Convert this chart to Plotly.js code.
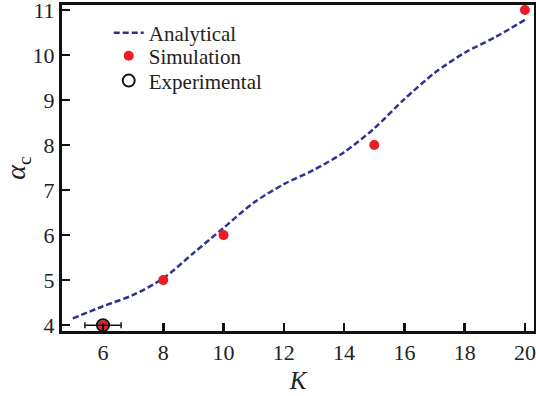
<!DOCTYPE html>
<html>
<head>
<meta charset="utf-8">
<script src="https://cdn.plot.ly/plotly-3.0.1.min.js"></script>
<style>html,body{margin:0;padding:0;background:#fff;font-family:"Liberation Serif"}</style>
</head>
<body>
<div id="chart" style="width:536px;height:396px"></div>
<script>
// Analytical curve
const analyticalK = [5, 6, 7, 8, 9, 10, 11, 12, 13, 14, 15, 16, 17, 18, 19, 20];
const analyticalAlpha = [4.15, 4.42, 4.67, 5.04, 5.6, 6.16, 6.72, 7.13, 7.45, 7.84, 8.37, 9.02, 9.6, 10.05, 10.39, 10.78];
// Simulation points
const simulationK = [6, 8, 10, 15, 20];
const simulationAlpha = [4, 5, 6, 8, 11];
// Experimental point
const experimentalK = [6];
const experimentalAlpha = [4];
const experimentalKErr = [0.6];
const xTicks = [6, 8, 10, 12, 14, 16, 18, 20];
const yTicks = [4, 5, 6, 7, 8, 9, 10, 11];

const serif = "Liberation Serif";

const traces = [
  {
    x: analyticalK, y: analyticalAlpha, name: "Analytical", type: "scatter", mode: "lines",
    legend: "legend",
    line: {color: "#2e3192", width: 2.5, dash: "6px,3px", shape: "spline", smoothing: 0.8}
  },
  {
    x: simulationK, y: simulationAlpha, name: "Simulation", type: "scatter", mode: "markers",
    legend: "legend2",
    marker: {color: "#ed1c24", size: 10, symbol: "circle"}
  },
  {
    x: experimentalK, y: experimentalAlpha, name: "Experimental", type: "scatter", mode: "markers",
    legend: "legend3",
    marker: {color: "#111", size: 12, symbol: "circle-open", line: {width: 2, color: "#111"}},
    error_x: {type: "data", array: experimentalKErr, visible: true, color: "#111", thickness: 1.5, width: 3}
  }
];

function legendAt(y) {
  return {
    x: 0.099, y: y, xanchor: "left", yanchor: "middle",
    bgcolor: "rgba(0,0,0,0)",
    font: {family: serif, size: 21, color: "#222"}
  };
}

const layout = {
  width: 536, height: 396,
  margin: {l: 62, r: 2, t: 5, b: 65},
  paper_bgcolor: "#fff", plot_bgcolor: "#fff",
  font: {family: serif, size: 20, color: "#222"},
  showlegend: true,
  legend: legendAt(0.914),
  legend2: legendAt(0.843),
  legend3: legendAt(0.767),
  xaxis: {
    range: [4.64, 20.3],
    tickvals: xTicks, ticktext: xTicks.map(String),
    ticks: "inside", ticklen: 8, tickwidth: 2.5, tickcolor: "#111",
    showline: true, linewidth: 3, linecolor: "#111", mirror: true,
    showgrid: false, zeroline: false,
    ticklabeloverflow: "allow",
    tickfont: {family: serif, size: 22, color: "#222"},
    title: {text: "<i>K</i>", font: {family: serif, size: 25, color: "#222"}, standoff: 8}
  },
  yaxis: {
    range: [3.87, 11.11],
    tickvals: yTicks, ticktext: yTicks.map(String),
    ticks: "inside", ticklen: 8, tickwidth: 2.5, tickcolor: "#111",
    showline: true, linewidth: 3, linecolor: "#111", mirror: true,
    showgrid: false, zeroline: false,
    ticklabeloverflow: "allow",
    tickfont: {family: serif, size: 22, color: "#222"},
    title: {text: "<i>α</i><sub>c</sub>", font: {family: serif, size: 28, color: "#222"}, standoff: 0}
  }
};

function draw() {
  Plotly.newPlot("chart", traces, layout, {displayModeBar: false, staticPlot: true});
}
if (document.fonts && document.fonts.load) {
  Promise.all([
    document.fonts.load('20px "Liberation Serif"'),
    document.fonts.load('italic 20px "Liberation Serif"')
  ]).then(draw, draw);
} else {
  draw();
}
</script>
</body>
</html>
